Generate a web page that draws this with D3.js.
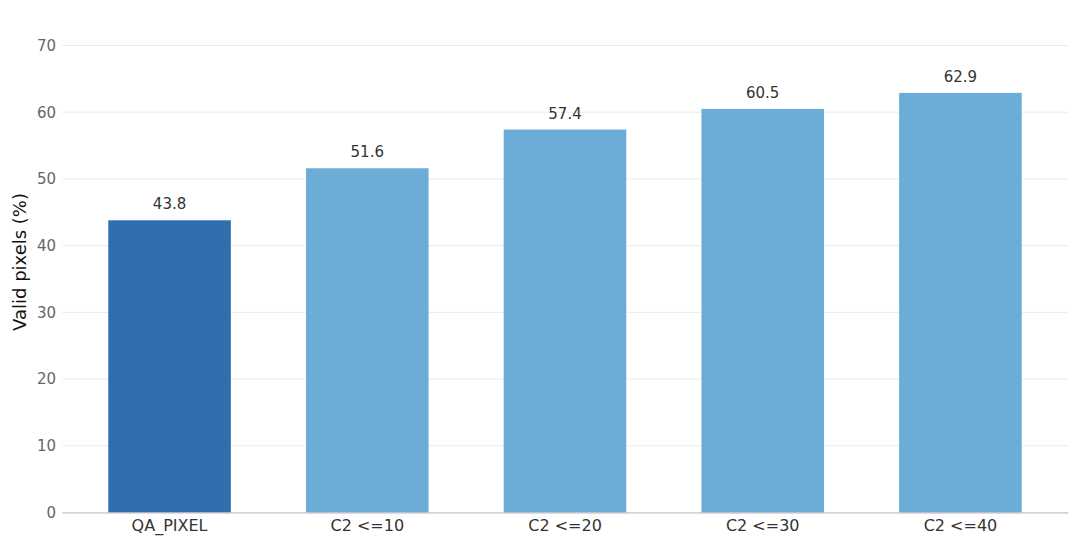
<!DOCTYPE html>
<html>
<head>
<meta charset="utf-8">
<script src="https://cdn.jsdelivr.net/npm/d3@7"></script>
<style>
  body { margin: 0; background: #fff; }
  text { font-family: "DejaVu Sans", sans-serif; }
</style>
</head>
<body>
<script>
// waarden
var categories = ["QA_PIXEL", "C2 <=10", "C2 <=20", "C2 <=30", "C2 <=40"];
var values = [43.8, 51.6, 57.4, 60.5, 62.9];
var yTicks = [0, 10, 20, 30, 40, 50, 60, 70];

var width = 1080, height = 548;
var margin = { top: 45.5, right: 12, bottom: 35.5, left: 62 };

var svg = d3.select("body").append("svg")
    .attr("width", width)
    .attr("height", height);

var x = d3.scaleBand()
    .domain(categories)
    .range([margin.left, width - margin.right])
    .paddingInner(0.38)
    .paddingOuter(0.234);

var y = d3.scaleLinear()
    .domain([0, 70])
    .range([height - margin.bottom, margin.top]);

// gridlijnen
svg.append("g")
    .selectAll("line")
    .data(yTicks)
    .enter().append("line")
    .attr("x1", margin.left)
    .attr("x2", width - margin.right)
    .attr("y1", function(d) { return y(d); })
    .attr("y2", function(d) { return y(d); })
    .attr("stroke", "#ebebeb")
    .attr("stroke-width", 1);

// bars
svg.selectAll(".bar")
    .data(values)
    .enter().append("rect")
    .attr("class", "bar")
    .attr("x", function(d, i) { return x(categories[i]); })
    .attr("width", x.bandwidth())
    .attr("y", function(d) { return y(d); })
    .attr("height", function(d) { return y(0) - y(d); })
    .attr("fill", function(d, i) { return i === 0 ? "#2f6fad" : "#6badd6"; });

// labels boven de bars
svg.selectAll(".label")
    .data(values)
    .enter().append("text")
    .attr("class", "label")
    .attr("x", function(d, i) { return x(categories[i]) + x.bandwidth() / 2; })
    .attr("y", function(d) { return y(d) - 11; })
    .attr("text-anchor", "middle")
    .attr("font-size", 15)
    .attr("fill", "#333")
    .text(function(d) { return d.toFixed(1); });

// y-as
var yAxis = svg.append("g")
    .attr("transform", "translate(" + margin.left + ",0)")
    .call(d3.axisLeft(y).tickValues(yTicks).tickSize(0).tickPadding(6));
yAxis.select(".domain").remove();
yAxis.selectAll("text")
    .attr("font-size", 15)
    .attr("fill", "#666");

// x-as
var xAxis = svg.append("g")
    .attr("transform", "translate(0," + y(0) + ")")
    .call(d3.axisBottom(x).tickSize(0).tickPadding(7));
xAxis.select(".domain")
    .attr("stroke", "#b8bcc8")
    .attr("stroke-width", 1);
xAxis.selectAll("text")
    .attr("font-size", 16)
    .attr("fill", "#333");

// titel van de y-as
svg.append("text")
    .attr("transform", "translate(26,262) rotate(-90)")
    .attr("text-anchor", "middle")
    .attr("font-size", 18)
    .attr("fill", "#111")
    .text("Valid pixels (%)");
</script>
</body>
</html>
